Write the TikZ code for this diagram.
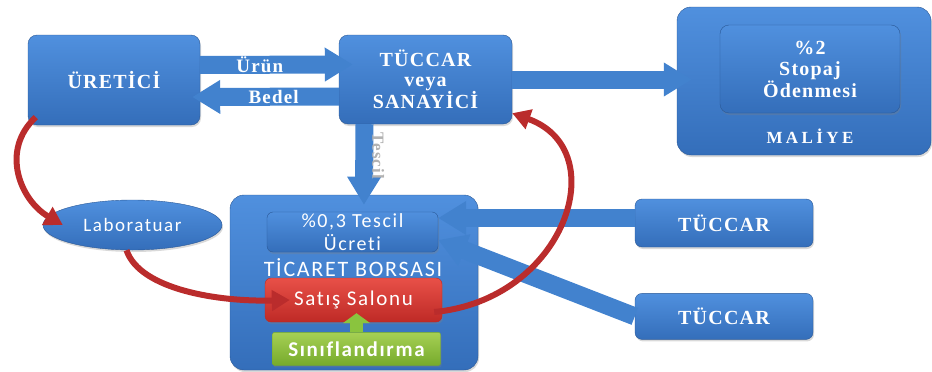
\documentclass[tikz,border=0pt]{standalone}
\usepackage{fontspec}
\setmainfont{Liberation Serif}
\newfontfamily\boxfont[LetterSpace=6]{Liberation Serif}
\newfontfamily\widefont[LetterSpace=20]{Liberation Serif}
\newfontfamily\borsafont[LetterSpace=8, Ligatures=NoCommon]{Carlito}
\usetikzlibrary{positioning, arrows.meta, shapes.geometric, shadows}
\definecolor{boxtop}{RGB}{80,144,222}
\definecolor{boxbot}{RGB}{52,110,186}
\definecolor{boxline}{RGB}{42,88,150}
\definecolor{arrowblue}{RGB}{66,130,206}
\definecolor{salontop}{RGB}{232,80,72}
\definecolor{salonbot}{RGB}{190,42,38}
\definecolor{sinifttop}{RGB}{166,208,84}
\definecolor{sinifbot}{RGB}{118,170,44}
\definecolor{arrowred}{RGB}{186,44,44}
\definecolor{arrowgreen}{RGB}{138,196,62}

\begin{document}
\begin{tikzpicture}[x=1pt, y=-1pt,
    bluebox/.style={rectangle, rounded corners=9pt, draw=boxline, top color=boxtop, bottom color=boxbot, text=white, align=center, inner sep=0pt, font=\boxfont\bfseries\fontsize{20}{20}\selectfont, drop shadow={opacity=0.3, shadow xshift=1pt, shadow yshift=-2pt}},
    innerbox/.style={bluebox, font=\borsafont\fontsize{20}{23}\selectfont},
    redbox/.style={innerbox, draw=salonbot, top color=salontop, bottom color=salonbot, rounded corners=6pt, font=\borsafont\fontsize{21}{23}\selectfont},
    greenbox/.style={innerbox, draw=sinifbot, top color=sinifttop, bottom color=sinifbot, rounded corners=2pt, font=\borsafont\bfseries\fontsize{21}{23}\selectfont},
    labbox/.style={ellipse, draw=boxline, top color=boxtop, bottom color=boxbot, text=white, inner sep=0pt, font=\borsafont\fontsize{19}{22}\selectfont, drop shadow={opacity=0.3, shadow xshift=1pt, shadow yshift=-2pt}},
    plaintext/.style={text=white, inner sep=0pt},
    fatarrow/.style={draw=arrowblue, line width=18pt, -{Triangle[length=28pt, width=32pt]}},
    redarrow/.style={draw=arrowred, line width=6pt, -{Triangle[length=18pt, width=20pt]}},
    greenarrow/.style={draw=arrowgreen, line width=13pt, -{Triangle[length=10pt, width=27pt]}}
    ]
    \useasboundingbox (0,0) rectangle (932,372);

    \node[bluebox, minimum width=172pt, minimum height=90pt] (uretici) at (114,80) {ÜRETİCİ};
    \node[bluebox, minimum width=173pt, minimum height=89pt] (tuccar) at (425.5,79.5) {TÜCCAR\\veya\\SANAYİCİ};
    \node[bluebox, minimum width=254pt, minimum height=148pt, rounded corners=14pt] (maliye) at (804,81) {};
    \node[bluebox, minimum width=180pt, minimum height=88pt, font=\boxfont\bfseries\fontsize{20}{21.5}\selectfont] (stopaj) at (810,69) {\%2\\Stopaj\\Ödenmesi};
    \node[plaintext, font=\widefont\bfseries\fontsize{17}{20}\selectfont] (maliyelbl) at (810,136) {MALİYE};

    \node[labbox, minimum width=179pt, minimum height=50pt] (lab) at (132.5,225) {Laboratuar};

    \node[bluebox, minimum width=248pt, minimum height=175pt, rounded corners=14pt] (borsa) at (354,282.5) {};
    \node[innerbox, minimum width=171pt, minimum height=40pt, rounded corners=6pt] (ucret) at (352.5,232) {\%0,3 Tescil\\Ücreti};
    \node[plaintext, font=\borsafont\fontsize{22}{23}\selectfont] (borsalbl) at (353,268) {TİCARET BORSASI};
    \node[redbox, minimum width=177pt, minimum height=44pt] (satis) at (353.5,300) {Satış Salonu};
    \node[greenbox, minimum width=168pt, minimum height=33pt] (sinif) [below=10pt of satis, xshift=3pt] {Sınıflandırma};

    \node[bluebox, minimum width=178pt, minimum height=48pt, rounded corners=7pt] (tuccara) at (724,223) {TÜCCAR};
    \node[bluebox, minimum width=178pt, minimum height=46pt, rounded corners=7pt] (tuccarb) [below=46pt of tuccara] {TÜCCAR};

    \draw[fatarrow, shorten >=-14pt] ([yshift=15pt]uretici.east) -- ([yshift=15pt]tuccar.west)
        node[pos=0.43, plaintext, font=\boxfont\bfseries\fontsize{19}{20}\selectfont] {Ürün};
    \draw[fatarrow, shorten >=-8pt] ([yshift=-17pt]tuccar.west) -- ([yshift=-17pt]uretici.east)
        node[pos=0.47, plaintext, font=\boxfont\bfseries\fontsize{19}{20}\selectfont] {Bedel};
    \draw[fatarrow, shorten >=-15pt] (tuccar.east) -- (tuccar.east -| maliye.west);
    \draw[fatarrow, shorten >=-10pt] ([xshift=-61pt]tuccar.south) -- ([xshift=10pt]borsa.north)
        node[pos=0.45, xshift=14pt, rotate=-90, text=gray!60, font=\boxfont\bfseries\fontsize{17}{18}\selectfont] {Tescil};
    \draw[fatarrow] ([yshift=5pt]tuccara.west) -- ([yshift=14pt]ucret.east);
    \draw[fatarrow] (tuccarb.west) -- ([yshift=-8pt]ucret.east);
    \draw[greenarrow, shorten >=-9pt] (sinif.north) -- (satis.south -| sinif.north);

    \draw[redarrow] ([xshift=8pt, yshift=8pt]uretici.south west) .. controls (0,150) and (20,200) .. ([xshift=20pt]lab.west);
    \draw[redarrow] ([xshift=-6pt]lab.south) .. controls (140,290) and (220,302) .. ([xshift=25pt]satis.west);
    \draw[redarrow] ([xshift=-8pt, yshift=-12pt]satis.east) .. controls (565,300) and (615,150) .. ([yshift=11pt]tuccar.south east);
\end{tikzpicture}
\end{document}
